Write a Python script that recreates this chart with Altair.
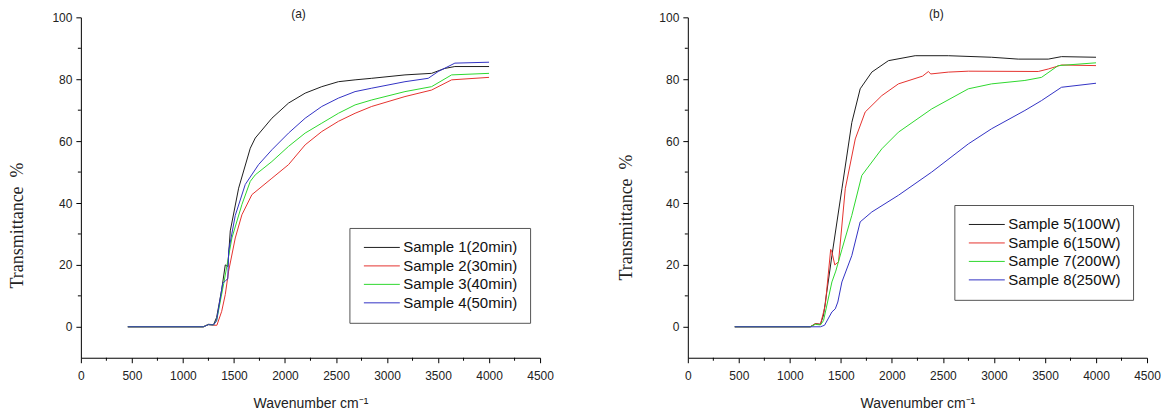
import altair as alt
import pandas as pd

# ---------------- Panel (a) ----------------
a_labels = ["Sample 1(20min)", "Sample 2(30min)", "Sample 3(40min)", "Sample 4(50min)"]

s1_x = [460, 1200, 1250, 1300, 1330, 1380, 1415, 1440, 1464, 1546, 1660, 1709, 1872, 2035, 2198, 2361, 2524, 2687, 2850, 3176, 3437, 3567, 3665, 4000]
s1_y = [0, 0, 0.8, 0.7, 3, 12, 20, 19.5, 31, 44.8, 57.7, 61, 67.4, 72.3, 75.5, 77.6, 79.2, 79.8, 80.3, 81.4, 81.9, 83.5, 84.1, 84.1]

s2_x = [460, 1200, 1250, 1300, 1333, 1380, 1415, 1448, 1513, 1578, 1676, 1872, 2035, 2198, 2361, 2524, 2687, 2850, 3176, 3437, 3633, 4000]
s2_y = [0, 0, 0.7, 0.5, 0.5, 5, 10.4, 18, 28.7, 36.2, 42.7, 48, 52.4, 58.8, 63.1, 66.4, 69, 71.2, 74.4, 76.5, 79.8, 80.6]

s3_x = [460, 1200, 1250, 1300, 1330, 1400, 1480, 1578, 1660, 1709, 1872, 2035, 2198, 2361, 2524, 2687, 2850, 3176, 3437, 3633, 4000]
s3_y = [0, 0, 0.7, 0.6, 2, 14, 28.7, 39.5, 47, 49.1, 53.4, 58.3, 62.6, 65.8, 69, 71.7, 73.3, 76, 77.6, 81.4, 81.9]

s4_x = [460, 1200, 1250, 1300, 1330, 1390, 1420, 1440, 1448, 1513, 1611, 1741, 1872, 2035, 2198, 2361, 2524, 2687, 2850, 3176, 3404, 3502, 3665, 4000]
s4_y = [0, 0, 0.7, 0.6, 2, 14, 15, 15.5, 24.5, 36, 46, 52.4, 57.2, 62.6, 67.4, 71.2, 73.9, 76, 77.1, 79.2, 80.3, 82.5, 85.2, 85.5]

# ---------------- Panel (b) ----------------
b_labels = ["Sample 5(100W)", "Sample 6(150W)", "Sample 7(200W)", "Sample 8(250W)"]

s5_x = [460, 1200, 1250, 1300, 1330, 1412, 1510, 1607, 1689, 1803, 1966, 2228, 2553, 2977, 3238, 3532, 3662, 4000]
s5_y = [0, 0, 1, 0.8, 3.8, 23, 44.6, 66, 76.9, 82.3, 86, 87.6, 87.6, 87.1, 86.5, 86.5, 87.3, 87.1]

s6_x = [460, 1200, 1250, 1300, 1347, 1400, 1412, 1440, 1477, 1543, 1641, 1738, 1901, 2064, 2300, 2358, 2380, 2553, 2749, 3434, 3532, 3662, 4000]
s6_y = [0, 0, 1, 0.8, 7, 25, 24.2, 20, 21, 44.6, 60.7, 69.4, 74.7, 78.5, 81, 82.5, 81.7, 82.3, 82.6, 82.5, 83.3, 84.6, 84.4]

s7_x = [460, 1200, 1250, 1300, 1330, 1412, 1450, 1510, 1607, 1705, 1901, 2064, 2390, 2749, 2977, 3303, 3466, 3629, 4000]
s7_y = [0, 0, 0.8, 0.6, 2, 14.5, 18, 25, 36, 48.9, 57.5, 62.9, 70.4, 76.9, 78.5, 79.6, 80.6, 84.4, 85.3]

s8_x = [460, 1200, 1300, 1340, 1412, 1445, 1470, 1510, 1607, 1689, 1803, 2064, 2390, 2749, 2977, 3303, 3466, 3662, 4000]
s8_y = [0, 0, 0, 0.5, 4.8, 5.8, 8, 14.5, 23, 33.9, 37.1, 42.5, 50, 59.1, 64, 69.9, 73.1, 77.4, 78.7]

colors = ["#1e1e1e", "#e5322e", "#2ed82e", "#3232c4"]

x_major = [0, 500, 1000, 1500, 2000, 2500, 3000, 3500, 4000, 4500]
x_minor = [250, 750, 1250, 1750, 2250, 2750, 3250, 3750, 4250]
y_major = [0, 20, 40, 60, 80, 100]
y_minor = [10, 30, 50, 70, 90]

W, H = 460, 341


def panel(title, dx, labels, xs, ys, ytitle_x, ytitle_y, leg_x, leg_y):
    rows = []
    for lab, xv, yv in zip(labels, xs, ys):
        for a, b in zip(xv, yv):
            rows.append({"series": lab, "wn": a, "T": b})
    df = pd.DataFrame(rows)

    xscale = alt.Scale(domain=[0, 4500], nice=False, zero=False)
    yscale = alt.Scale(domain=[-10, 100], nice=False, zero=False)

    x_axis = alt.Axis(
        values=x_major, format="d", title="Wavenumber cm\u207b\u00b9",
        tickSize=5, labelPadding=8, labelFontSize=12, labelFont="Liberation Sans",
        labelColor="#222", labelFlush=False, labelOverlap=False,
        titleFont="Liberation Sans", titleFontSize=14, titleFontWeight="normal",
        titleColor="#222", titlePadding=15, grid=False,
        domainColor="black", tickColor="black")
    y_axis = alt.Axis(
        values=y_major, format="d", title="Transmittance\u00a0\u00a0%",
        tickSize=5, labelPadding=4, labelFontSize=12, labelFont="Liberation Sans",
        labelColor="#222", labelOverlap=False,
        titleFont="Liberation Serif", titleFontSize=18, titleFontWeight="normal",
        titleColor="#222", titleX=ytitle_x, titleY=ytitle_y, titleAlign="center",
        titleBaseline="middle", grid=False,
        domainColor="black", tickColor="black")

    lines = alt.Chart(df).mark_line(strokeWidth=1).encode(
        x=alt.X("wn:Q", scale=xscale, axis=x_axis),
        y=alt.Y("T:Q", scale=yscale, axis=y_axis),
        color=alt.Color("series:N", sort=labels,
                        scale=alt.Scale(domain=labels, range=colors),
                        legend=alt.Legend(
                            title=None, orient="none", legendX=leg_x, legendY=leg_y,
                            symbolType="M-3.6,0H3.6", symbolSize=100, symbolStrokeWidth=1,
                            symbolOffset=13, labelOffset=14, padding=12, rowPadding=2.5,
                            labelFontSize=15, labelFont="Liberation Sans", labelColor="#111",
                            labelLimit=0, strokeColor="#555", fillColor="white")),
    )

    ym = alt.Chart(pd.DataFrame({"wn": [0] * len(y_minor), "T": y_minor})).mark_rule(
        color="black", strokeWidth=1).encode(
        y=alt.Y("T:Q", scale=yscale, axis=y_axis),
        x=alt.value(-3), x2=alt.value(0),
    )
    xm = alt.Chart(pd.DataFrame({"wn": x_minor, "T": [0] * len(x_minor)})).mark_rule(
        color="black", strokeWidth=1).encode(
        x=alt.X("wn:Q", scale=xscale, axis=x_axis),
        y=alt.value(H), y2=alt.value(H + 3),
    )

    return alt.layer(lines, ym, xm).properties(
        width=W, height=H,
        title=alt.TitleParams(title, fontSize=12, font="Liberation Sans", fontWeight="normal",
                              color="#222", anchor="middle", dx=dx, offset=-10),
    )


left = panel("(a)", -12, a_labels, [s1_x, s2_x, s3_x, s4_x], [s1_y, s2_y, s3_y, s4_y],
             -63, 208, 269, 211)
right = panel("(b)", 19, b_labels, [s5_x, s6_x, s7_x, s8_x], [s5_y, s6_y, s7_y, s8_y],
              -61, 200, 267, 188)

chart = alt.hconcat(left, right, spacing=64).resolve_scale(
    color="independent"
).resolve_legend(color="independent").properties(
    padding={"left": 1, "top": 0, "right": 0, "bottom": 0}
).configure_view(strokeWidth=0)

chart.save("out.html", embed_options={"renderer": "svg", "actions": False})
